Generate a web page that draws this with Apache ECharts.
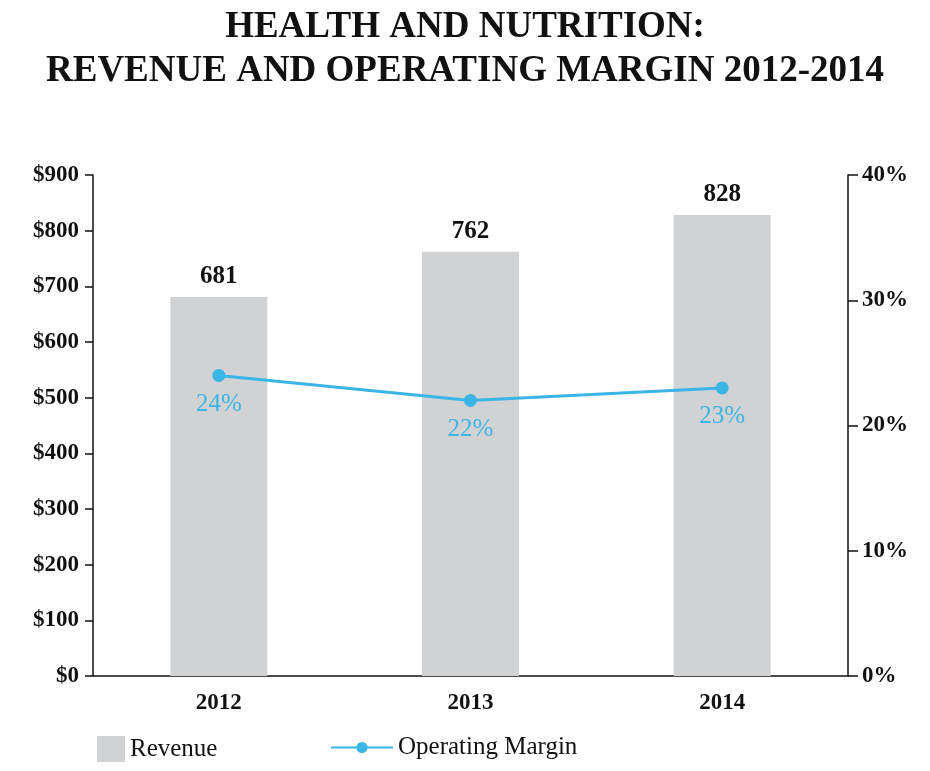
<!DOCTYPE html>
<html>
<head>
<meta charset="utf-8">
<script src="https://cdn.jsdelivr.net/npm/echarts@6/dist/echarts.min.js"></script>
<style>
  html, body { margin: 0; padding: 0; background: #fff; }
  #chart { width: 930px; height: 771px; }
</style>
</head>
<body>
<div id="chart"></div>
<script>
// data
const years = ['2012', '2013', '2014']
const revenue = [681, 762, 828]
const margin = [24, 22, 23]
const revenueTicks = [0, 100, 200, 300, 400, 500, 600, 700, 800, 900]

const font = '"Liberation Serif", "DejaVu Serif", serif'
const blue = '#3BB4E6'
const lbl = { fontFamily: font, fontSize: 23, fontWeight: 'bold', color: '#111' }

const chart = echarts.init(document.getElementById('chart'))
chart.setOption({
  animation: false,
  textStyle: { fontFamily: font },
  title: {
    text: 'HEALTH AND NUTRITION:\nREVENUE AND OPERATING MARGIN 2012-2014',
    left: 'center',
    top: 0,
    textStyle: { fontFamily: font, fontSize: 37, fontWeight: 'bold', color: '#111', lineHeight: 44 }
  },
  legend: [
    {
      bottom: 4, left: 92, itemWidth: 28, itemHeight: 26,
      textStyle: { fontFamily: font, fontSize: 25, color: '#111' },
      data: [{ name: 'Revenue', icon: 'rect' }]
    },
    {
      bottom: 6, left: 325, itemWidth: 62, itemHeight: 14,
      textStyle: { fontFamily: font, fontSize: 25, color: '#111' },
      data: [{ name: 'Operating Margin' }]
    }
  ],
  grid: { left: 93, right: 82, top: 175, bottom: 95 },
  xAxis: {
    type: 'category',
    data: years,
    axisLine: { lineStyle: { color: '#111', width: 1.5 } },
    axisTick: { show: false },
    axisLabel: Object.assign({ margin: 16 }, lbl)
  },
  yAxis: [
    {
      type: 'value', min: 0, max: 900, interval: 100,
      splitLine: { show: false },
      axisLine: { show: true, lineStyle: { color: '#111', width: 1.5 } },
      axisTick: { show: true, length: 8, lineStyle: { color: '#111', width: 1.5 } },
      axisLabel: Object.assign({ margin: 14, formatter: v => revenueTicks.includes(v) ? '$' + v : '' }, lbl)
    },
    {
      type: 'value', min: 0, max: 40, interval: 10,
      splitLine: { show: false },
      axisLine: { show: true, lineStyle: { color: '#111', width: 1.5 } },
      axisTick: { show: true, length: 10, lineStyle: { color: '#111', width: 1.5 } },
      axisLabel: Object.assign({ margin: 14, formatter: '{value}%' }, lbl)
    }
  ],
  series: [
    {
      name: 'Revenue',
      type: 'bar',
      data: revenue,
      barWidth: 97,
      itemStyle: { color: '#D1D2D4' },
      label: Object.assign({ show: true, position: 'top', distance: 8 }, lbl, { fontSize: 25 })
    },
    {
      name: 'Operating Margin',
      type: 'line',
      yAxisIndex: 1,
      data: margin,
      symbol: 'circle',
      symbolSize: 13,
      lineStyle: { color: blue, width: 3 },
      itemStyle: { color: blue },
      label: { show: true, position: 'bottom', distance: 10, fontFamily: font, fontSize: 25, color: blue, formatter: '{c}%' }
    }
  ]
})
</script>
</body>
</html>
